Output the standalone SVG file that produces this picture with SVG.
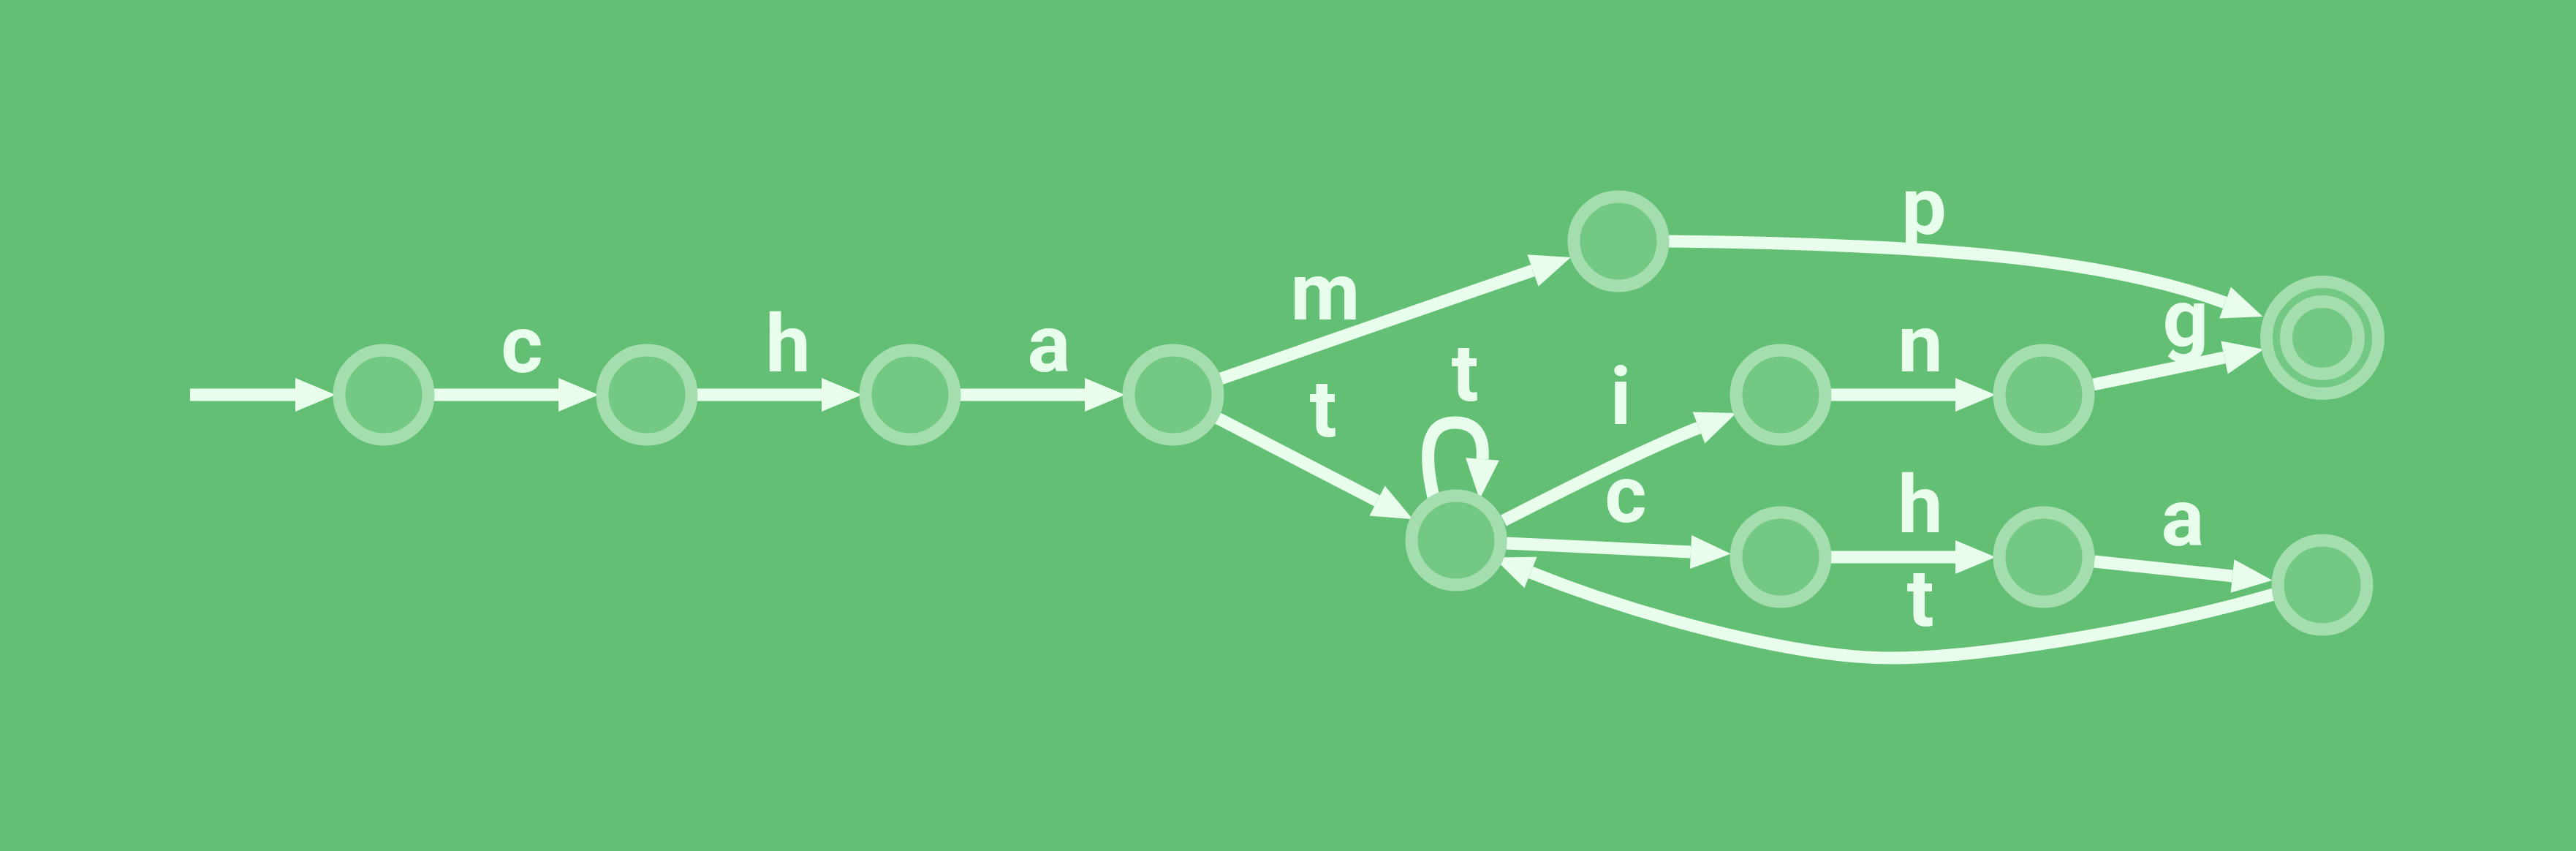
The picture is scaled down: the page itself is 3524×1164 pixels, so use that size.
<svg xmlns="http://www.w3.org/2000/svg" width="3524" height="1164" viewBox="0 0 3524 1164">
<style>
.bg{fill:#63BF74}
.node{fill:#73C884;stroke:#A4DDAE;stroke-width:17}
.edge{fill:none;stroke:#E8FDEB;stroke-width:17;marker-end:url(#ah)}
.lbl{font-family:Roboto,"Liberation Sans",sans-serif;font-weight:700;font-size:110px;fill:#E8FDEB;text-anchor:middle}
</style>
<defs>
<marker id="ah" markerUnits="userSpaceOnUse" viewBox="0 0 55 46" markerWidth="55" markerHeight="46" refX="0" refY="23" orient="auto" overflow="visible">
<path d="M0,0 L55,23 L0,46 Z" fill="#E8FDEB"/>
</marker>
</defs>
<rect class="bg" x="0" y="0" width="3524" height="1164"/>
<g id="connectors">
<path id="e-init" class="edge" d="M260,540 H404"/>
<path id="e01" class="edge" d="M586,540 H764"/>
<path id="e12" class="edge" d="M946,540 H1124"/>
<path id="e23" class="edge" d="M1306,540 H1484"/>
<path id="e34" class="edge" d="M1670,518 L2097,370"/>
<path id="e35" class="edge" d="M1666,572 L1884,685"/>
<path id="e55" class="edge" d="M1961,680 C1945,610 1955,578 1990,578 C2022,578 2030,600 2028,628"/>
<path id="e56" class="edge" d="M2057,712 C2150,665 2250,614 2324,585"/>
<path id="e59" class="edge" d="M2061,743 L2313,755"/>
<path id="e48" class="edge" d="M2283,330 C2620,334 2870,350 3044,414"/>
<path id="e67" class="edge" d="M2497,540 H2675"/>
<path id="e78" class="edge" d="M2864,526 L3043,489"/>
<path id="e910" class="edge" d="M2497,762 H2675"/>
<path id="e1011" class="edge" d="M2865,768 L3054,788"/>
<path id="e115" class="edge" d="M3110,813 C2966,855 2720,900 2587,900 C2450,900 2233,839 2094,783"/>
<text class="lbl" x="714" y="509">c</text>
<text class="lbl" x="1078" y="508">h</text>
<text class="lbl" x="1435" y="508">a</text>
<text class="lbl" x="1813" y="437">m</text>
<text class="lbl" x="1810" y="597">t</text>
<text class="lbl" x="2004" y="548">t</text>
<text class="lbl" x="2217" y="580">i</text>
<text class="lbl" x="2224" y="714">c</text>
<text class="lbl" x="2632" y="320">p</text>
<text class="lbl" x="2627" y="508">n</text>
<text class="lbl" x="2990" y="473">g</text>
<text class="lbl" x="2627" y="728">h</text>
<text class="lbl" x="2986" y="746">a</text>
<text class="lbl" x="2627" y="856">t</text>
</g>
<g id="n0"><circle class="node" cx="525" cy="540" r="61"/></g>
<g id="n1"><circle class="node" cx="885" cy="540" r="61"/></g>
<g id="n2"><circle class="node" cx="1245" cy="540" r="61"/></g>
<g id="n3"><circle class="node" cx="1605" cy="540" r="61"/></g>
<g id="n4"><circle class="node" cx="2214" cy="330" r="61"/></g>
<g id="n5"><circle class="node" cx="1992" cy="739" r="61"/></g>
<g id="n6"><circle class="node" cx="2436" cy="540" r="61"/></g>
<g id="n7"><circle class="node" cx="2796" cy="540" r="61"/></g>
<g id="n8"><circle class="node" cx="3177" cy="462" r="76.5"/><circle class="node" cx="3177" cy="462" r="49.5"/></g>
<g id="n9"><circle class="node" cx="2436" cy="762" r="61"/></g>
<g id="n10"><circle class="node" cx="2796" cy="762" r="61"/></g>
<g id="n11"><circle class="node" cx="3177" cy="800" r="61"/></g>
</svg>
